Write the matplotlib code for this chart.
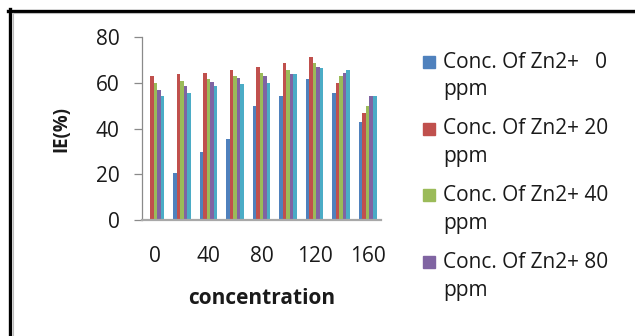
import matplotlib
matplotlib.use("Agg")
import matplotlib.pyplot as plt
import numpy as np
from matplotlib.patches import Rectangle
from matplotlib.lines import Line2D

categories = ["0", "20", "40", "60", "80", "100", "120", "140", "160"]
tick_labels = ["0", "", "40", "", "80", "", "120", "", "160"]
series_names = ["Conc. Of Zn2+   0\nppm", "Conc. Of Zn2+ 20\nppm",
                "Conc. Of Zn2+ 40\nppm", "Conc. Of Zn2+ 80\nppm",
                "Conc. Of Zn2+ 160\nppm"]
zn0 = [0, 20.6, 29.9, 35.6, 49.9, 54.2, 61.6, 55.6, 43.0]
zn20 = [63.1, 63.9, 64.5, 65.7, 67.2, 68.6, 71.4, 60.1, 47.0]
zn40 = [60.1, 60.9, 61.6, 63.1, 64.4, 65.7, 68.6, 62.9, 49.9]
zn80 = [56.9, 58.8, 60.3, 62.0, 62.9, 63.9, 67.2, 64.4, 54.2]
zn160 = [54.2, 55.6, 58.8, 59.4, 60.1, 63.9, 66.7, 65.7, 54.2]
colors = ["#4F81BD", "#C0504D", "#9BBB59", "#8064A2", "#4BACC6"]

series = [zn0, zn20, zn40, zn80, zn160]

FONT = "Open Sans"
fig = plt.figure(figsize=(6.35, 3.36), dpi=100)
ax = fig.add_axes([142/635, 1-220/336, (381-142)/635, (220-37.3)/336])

x = np.arange(len(categories))
n = len(series)
bw = 0.133
for i, (vals, c) in enumerate(zip(series, colors)):
    ax.bar(x + (i - (n-1)/2) * bw, vals, width=bw, color=c, linewidth=0)

ax.set_xlim(-0.5, len(categories) - 0.5)
ax.set_ylim(0, 80)
ax.set_yticks([0, 20, 40, 60, 80])
ax.set_xticks(x)
ax.set_xticklabels(tick_labels)
for s in ["top", "right"]:
    ax.spines[s].set_visible(False)
ax.spines["left"].set_color("#8A8A8A")
ax.spines["left"].set_linewidth(0.9)
ax.spines["bottom"].set_color("#A8A8A8")
ax.spines["bottom"].set_linewidth(1.6)
ax.tick_params(axis="y", direction="out", length=6, width=0.9, color="#8A8A8A",
               pad=10, labelsize=15, labelcolor="#1a1a1a")
ax.tick_params(axis="x", length=0, pad=19, labelsize=15, labelcolor="#1a1a1a")
for t in ax.get_xticklabels() + ax.get_yticklabels():
    t.set_fontfamily(FONT)

fig.text(61/635, 1-129/336, "IE(%)", rotation=90, ha="center", va="center",
         fontsize=13.5, fontweight="bold", family=FONT, color="#1a1a1a")
fig.text(262/635, 1-299/336, "concentration", ha="center", va="center",
         fontsize=15, fontweight="bold", family=FONT, color="#1a1a1a")

# legend (first four entries visible, as in the reference)
y0 = 62
for i in range(4):
    yy = y0 + i * 66.7
    fig.patches.append(Rectangle(((423)/635, 1-(yy+6)/336), 12/635, 12/336,
                                 transform=fig.transFigure, color=colors[i]))
    first, second = series_names[i].split("\n")
    fig.text(443/635, 1-yy/336, first, ha="left", va="center", fontsize=15,
             family=FONT, color="#1a1a1a")
    fig.text(443/635, 1-(yy+28)/336, second, ha="left", va="center", fontsize=15,
             family=FONT, color="#1a1a1a")

# frame
fig.add_artist(Line2D([8/635, 1], [1-10.5/336, 1-10.5/336], transform=fig.transFigure,
                      color="black", linewidth=2.4))
fig.add_artist(Line2D([9.5/635, 9.5/635], [0, 1-9/336], transform=fig.transFigure,
                      color="black", linewidth=2.4))
fig.add_artist(Line2D([12/635, 1], [1-13/336, 1-13/336], transform=fig.transFigure,
                      color="#BBBBBB", linewidth=0.8))
fig.add_artist(Line2D([12.5/635, 12.5/635], [0, 1-13/336], transform=fig.transFigure,
                      color="#BBBBBB", linewidth=0.8))

fig.savefig("out.png", dpi=100)
